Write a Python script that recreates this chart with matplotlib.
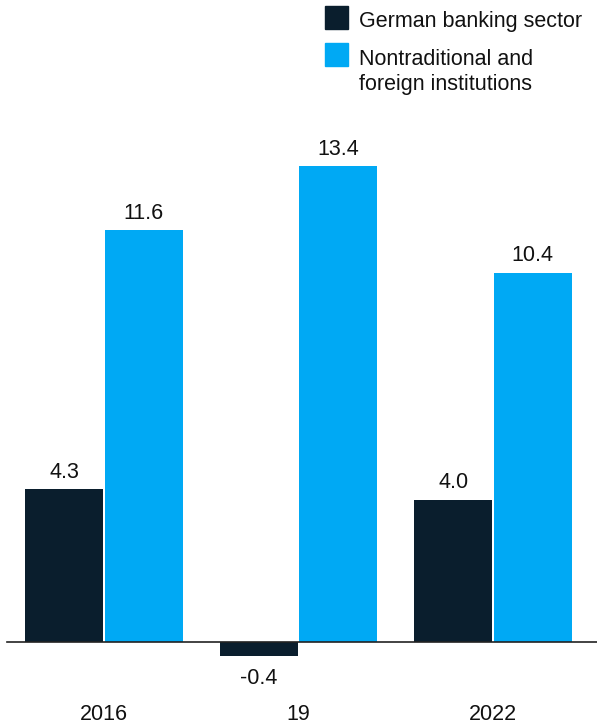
import numpy as np
import matplotlib.pyplot as plt
from matplotlib.patches import Rectangle

plt.rcParams['font.family'] = ['Liberation Sans', 'DejaVu Sans']

years = ["2016", "19", "2022"]
german = [4.3, -0.4, 4.0]
nontrad = [11.6, 13.4, 10.4]
series_names = ["German banking sector", "Nontraditional and\nforeign institutions"]

DARK = "#0a1e2d"
BLUE = "#00a9f4"
FS = 15.5

fig = plt.figure(figsize=(5.97, 7.26), dpi=100)
ax = fig.add_axes([0, 26 / 726, 1, 700 / 726])

x = np.arange(len(years))
w = 0.40
off = w / 2 + 0.005
b1 = ax.bar(x - off, german, w, color=DARK)
b2 = ax.bar(x + off, nontrad, w, color=BLUE)

for bars, vals in ((b1, german), (b2, nontrad)):
    for r, v in zip(bars, vals):
        cx = r.get_x() + r.get_width() / 2
        if v >= 0:
            ax.annotate(f"{v:.1f}", (cx, v), xytext=(0, 4.8), textcoords="offset points",
                        ha="center", va="bottom", fontsize=FS, color="#111111")
        else:
            ax.annotate(f"{v:.1f}", (cx, v), xytext=(0, -8.5), textcoords="offset points",
                        ha="center", va="top", fontsize=FS, color="#111111")

ax.axhline(0, xmin=7 / 597, xmax=1, color="#222222", lw=1.2)

ax.set_xlim(-104 / 194.5, (597 - 104) / 194.5)
ax.set_ylim(-58 / 35.5, 642 / 35.5)
ax.set_xticks(x)
ax.set_xticklabels(years, fontsize=FS, color="#111111")
ax.tick_params(axis="x", length=0, pad=3)
ax.set_yticks([])
for s in ax.spines.values():
    s.set_visible(False)

# legend drawn in figure pixels: swatch top, then one baseline per text line
H = 726
W = 597
swatch_tops = [6, 43]
baselines = [[27], [65, 90]]
for name, col, top, bls in zip(series_names, [DARK, BLUE], swatch_tops, baselines):
    fig.patches.append(Rectangle((325 / W, 1 - (top + 23) / H), 23 / W, 23 / H,
                                 transform=fig.transFigure, color=col))
    for line, bl in zip(name.split("\n"), bls):
        fig.text(359 / W, 1 - bl / H, line, fontsize=FS, color="#111111",
                 va="baseline", ha="left")

fig.savefig("out.png", dpi=100)
